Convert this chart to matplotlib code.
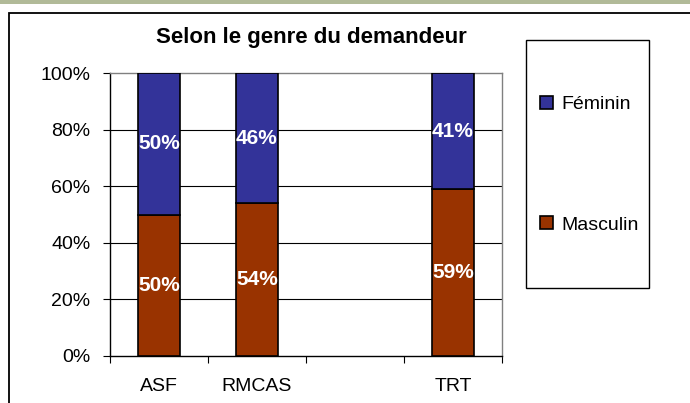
import numpy as np
import matplotlib
matplotlib.use("Agg")
import matplotlib.pyplot as plt
from matplotlib.patches import Rectangle

plt.rcParams['font.family'] = ['Liberation Sans', 'DejaVu Sans']

categories = ['ASF', 'RMCAS', '', 'TRT']
masculin = [50, 54, np.nan, 59]
feminin = [50, 46, np.nan, 41]
yticks = [0, 20, 40, 60, 80, 100]

col_m = '#993300'
col_f = '#333399'

W, H = 690, 403
fig = plt.figure(figsize=(W / 100, H / 100), dpi=100)
fig.patch.set_facecolor('white')

# strip + chart border
fig.patches.append(Rectangle((0, 1 - 4 / H), 1, 4 / H, transform=fig.transFigure,
                             facecolor='#b1ba98', edgecolor='none', zorder=0))
fig.patches.append(Rectangle((9 / W, -0.2), 1.2, 1 - 13 / H + 0.2, transform=fig.transFigure,
                             facecolor='none', edgecolor='black', lw=1.3, zorder=1))
# legend box
fig.patches.append(Rectangle((526 / W, 1 - 288 / H), 123 / W, 248 / H, transform=fig.transFigure,
                             facecolor='white', edgecolor='black', lw=1.0, zorder=1))

ax = fig.add_axes([110 / W, 1 - 356 / H, (502 - 110) / W, (356 - 73) / H])
x = np.arange(len(categories))

bm = ax.bar(x, masculin, width=0.42, color=col_m, edgecolor='black', lw=1.2,
            label='Masculin', zorder=3)
bf = ax.bar(x, feminin, width=0.42, bottom=masculin, color=col_f, edgecolor='black',
            lw=1.2, label='Féminin', zorder=3)

for bars, vals in ((bm, masculin), (bf, feminin)):
    labels = ['' if np.isnan(v) else f'{v:.0f}%' for v in vals]
    ax.bar_label(bars, labels=labels, label_type='center', color='white',
                 fontsize=15, fontweight='bold', zorder=4)

ax.set_xlim(-0.5, len(categories) - 0.5)
ax.set_ylim(0, 100)
ax.set_yticks(yticks)
ax.set_yticklabels([f'{v}%' for v in yticks], fontsize=14)
ax.tick_params(axis='y', length=5, width=0.8, pad=9, direction='out')

# excel-style category ticks between slots, labels at centers
ax.set_xticks(np.arange(len(categories) + 1) - 0.5)
ax.set_xticklabels([])
ax.set_xticks(x, minor=True)
ax.set_xticklabels(categories, minor=True, fontsize=14)
ax.tick_params(axis='x', which='major', length=5, width=0.8, direction='out')
ax.tick_params(axis='x', which='minor', length=0, pad=16)

for v in yticks[1:-1]:
    ax.axhline(v, color='black', lw=0.8, zorder=1)

ax.spines['top'].set_color('#808080')
ax.spines['right'].set_color('#808080')
ax.spines['left'].set_color('black')
ax.spines['bottom'].set_color('black')
for s in ax.spines.values():
    s.set_linewidth(1.0)

fig.text(311 / W, 1 - 38 / H, 'Selon le genre du demandeur', ha='center', va='center',
         fontsize=16, fontweight='bold')

leg = fig.legend(handles=[bf, bm], labels=['Féminin', 'Masculin'],
                 loc='upper left', bbox_to_anchor=(540 / W, 1 - 96 / H),
                 fontsize=14, frameon=False, borderpad=0, labelspacing=5.3,
                 handlelength=0.65, handleheight=0.65, handletextpad=0.45,
                 borderaxespad=0)

fig.savefig('out.png', dpi=100)
